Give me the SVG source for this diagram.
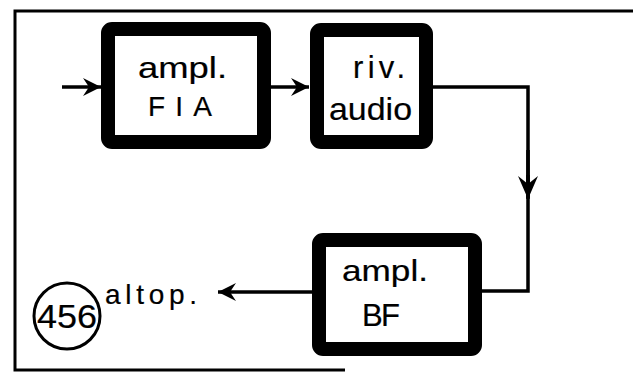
<svg xmlns="http://www.w3.org/2000/svg" width="634" height="372" viewBox="0 0 634 372">
<defs>
<style>
.box{fill:#fff;stroke:#000;stroke-width:14;stroke-linejoin:round}
.wire{fill:none;stroke:#000;stroke-width:3.5;stroke-linejoin:miter}
.frame{fill:none;stroke:#000;stroke-width:3}
.t{font-family:"Liberation Sans",Arial,sans-serif;fill:#000;stroke:#000;stroke-width:0.2}
</style>
<marker id="ah" viewBox="-20 -10 22 20" markerWidth="22" markerHeight="20" refX="0" refY="0" orient="auto" markerUnits="userSpaceOnUse">
<path d="M0,0 L-18,-9 L-12,0 L-18,9 Z" fill="#000"/>
</marker>
<marker id="ahb" viewBox="-24 -12 26 24" markerWidth="26" markerHeight="24" refX="0" refY="0" orient="auto" markerUnits="userSpaceOnUse">
<path d="M0,0 L-23,-10 L-15,0 L-23,10 Z" fill="#000"/>
</marker>
</defs>
<g id="frame">
<path class="frame" d="M633,11 L15,11 L15,370 L345,370"/>
</g>
<g id="connectors">
<line class="wire" x1="62" y1="87" x2="101" y2="87" marker-end="url(#ah)"/>
<line class="wire" x1="271" y1="87" x2="309" y2="87" marker-end="url(#ah)"/>
<path class="wire" d="M433,87 L528,87 L528,198"/>
<path class="wire" d="M528,175 L528,291 L482,291"/>
<line class="wire" x1="528" y1="150" x2="528" y2="199" marker-end="url(#ahb)"/>
<line class="wire" x1="312" y1="292" x2="218" y2="292" marker-end="url(#ah)"/>
</g>
<g id="ampl-fia">
<rect class="box" x="108" y="29" width="156" height="113" rx="4"/>
<text class="t" x="138" y="78" font-size="29" textLength="89" lengthAdjust="spacingAndGlyphs">ampl.</text>
<text class="t" x="148" y="116" font-size="28" textLength="64" lengthAdjust="spacing">FIA</text>
</g>
<g id="riv-audio">
<rect class="box" x="317" y="30" width="109" height="112" rx="4"/>
<text class="t" x="353" y="78" font-size="31" textLength="52" lengthAdjust="spacing">riv.</text>
<text class="t" x="329" y="120" font-size="32" textLength="83" lengthAdjust="spacingAndGlyphs">audio</text>
</g>
<g id="ampl-bf">
<rect class="box" x="319" y="240" width="156" height="109" rx="4"/>
<text class="t" x="342" y="281" font-size="29" textLength="86" lengthAdjust="spacingAndGlyphs">ampl.</text>
<text class="t" x="362" y="326" font-size="31" textLength="38" lengthAdjust="spacing">BF</text>
</g>
<g id="altop">
<circle cx="67" cy="316" r="33" fill="none" stroke="#000" stroke-width="3"/>
<text class="t" x="37" y="328" font-size="33" textLength="60" lengthAdjust="spacingAndGlyphs">456</text>
<text class="t" x="105" y="304" font-size="28" textLength="92" lengthAdjust="spacing">altop.</text>
</g>
</svg>
